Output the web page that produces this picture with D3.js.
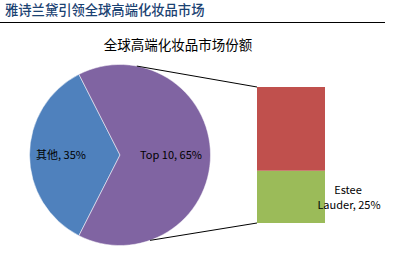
<!DOCTYPE html>
<html>
<head>
<meta charset="utf-8">
<script src="https://cdn.jsdelivr.net/npm/d3@7"></script>
<style>
  body { margin: 0; background: #fff; }
  svg text { font-family: "Century Gothic", "Noto Sans CJK SC", sans-serif; }
</style>
</head>
<body>
<div id="chart"></div>
<script>
// pie: whole market, bar: split of the Top 10 slice
const pieLabels = ["其他", "Top 10"];
const pieValues = [35, 65];
const barLabels = ["Top 10 其他", "Estee Lauder"];
const barValues = [40, 25];

const width = 400, height = 258;
const cx = 120, cy = 155, r = 90.5;

const svg = d3.select("#chart")
  .append("svg")
  .attr("width", width)
  .attr("height", height)
  .attr("viewBox", `0 0 ${width} ${height}`);

// page header
svg.append("text")
  .attr("x", 5)
  .attr("y", 15)
  .attr("font-size", 13.3)
  .attr("font-weight", 500)
  .attr("fill", "#1b4272")
  .text("雅诗兰黛引领全球高端化妆品市场");

svg.append("line")
  .attr("x1", 0).attr("x2", 385)
  .attr("y1", 22.5).attr("y2", 22.5)
  .attr("stroke", "#000")
  .attr("stroke-width", 1.2);

svg.append("text")
  .attr("x", 178)
  .attr("y", 50)
  .attr("text-anchor", "middle")
  .attr("font-size", 13.5)
  .attr("fill", "#000")
  .text("全球高端化妆品市场份额");

// pie, blue slice centred on the left side
const deg = Math.PI / 180;
const pieSpan = (pieValues[0] / d3.sum(pieValues)) * 360;
const pie = d3.pie()
  .sort(null)
  .startAngle((270 - pieSpan / 2) * deg)
  .endAngle((270 - pieSpan / 2 + 360) * deg);
const arc = d3.arc().innerRadius(0).outerRadius(r);
const pieColors = ["#4f81bd", "#8064a2"];

const pieG = svg.append("g").attr("transform", `translate(${cx},${cy})`);
const arcs = pie(pieValues);

pieG.selectAll("path")
  .data(arcs)
  .enter()
  .append("path")
  .attr("d", arc)
  .attr("fill", (d, i) => pieColors[i])
  .attr("stroke", "#fff")
  .attr("stroke-width", 0.5);

// label radius tuned per slice
const labelRadius = [59, 51];
pieG.selectAll("text.pielabel")
  .data(arcs)
  .enter()
  .append("text")
  .attr("class", "pielabel")
  .attr("x", (d, i) => {
    const a = (d.startAngle + d.endAngle) / 2;
    return Math.sin(a) * labelRadius[i];
  })
  .attr("y", (d, i) => {
    const a = (d.startAngle + d.endAngle) / 2;
    return -Math.cos(a) * labelRadius[i] + 4;
  })
  .attr("text-anchor", "middle")
  .attr("font-size", 11)
  .attr("fill", "#000")
  .text((d, i) => `${pieLabels[i]}, ${pieValues[i]}%`);

// stacked bar for the Top 10 slice
const barX = 257, barW = 68;
const y = d3.scaleLinear()
  .domain([0, d3.sum(barValues)])
  .range([223, 87]);
const barColors = ["#c0504d", "#9bbb59"];

// stack from bottom: Estee Lauder first
const stackOrder = [1, 0];
let acc = 0;
const segs = stackOrder.map(i => {
  const s = { i, y0: acc, y1: acc + barValues[i] };
  acc += barValues[i];
  return s;
});

svg.selectAll("rect.seg")
  .data(segs)
  .enter()
  .append("rect")
  .attr("class", "seg")
  .attr("x", barX)
  .attr("width", barW)
  .attr("y", d => y(d.y1))
  .attr("height", d => y(d.y0) - y(d.y1))
  .attr("fill", d => barColors[d.i]);

// connector lines from the pie edge to the bar corners
const topAngle = 10.7 * deg, botAngle = 160.6 * deg;
const conn = [
  [cx + Math.sin(topAngle) * r, cy - Math.cos(topAngle) * r, barX, y(d3.sum(barValues))],
  [cx + Math.sin(botAngle) * r, cy - Math.cos(botAngle) * r, barX, y(0)]
];
svg.selectAll("line.conn")
  .data(conn)
  .enter()
  .append("line")
  .attr("class", "conn")
  .attr("x1", d => d[0]).attr("y1", d => d[1])
  .attr("x2", d => d[2]).attr("y2", d => d[3])
  .attr("stroke", "#000")
  .attr("stroke-width", 1);

// Estee Lauder label, two lines
const elY = (y(0) + y(barValues[1])) / 2;
svg.append("text")
  .attr("x", 348)
  .attr("y", elY - 3)
  .attr("text-anchor", "middle")
  .attr("font-size", 11)
  .attr("fill", "#000")
  .text("Estee");
svg.append("text")
  .attr("x", 349)
  .attr("y", elY + 12)
  .attr("text-anchor", "middle")
  .attr("font-size", 11)
  .attr("fill", "#000")
  .text(`Lauder, ${barValues[1]}%`);
</script>
</body>
</html>
